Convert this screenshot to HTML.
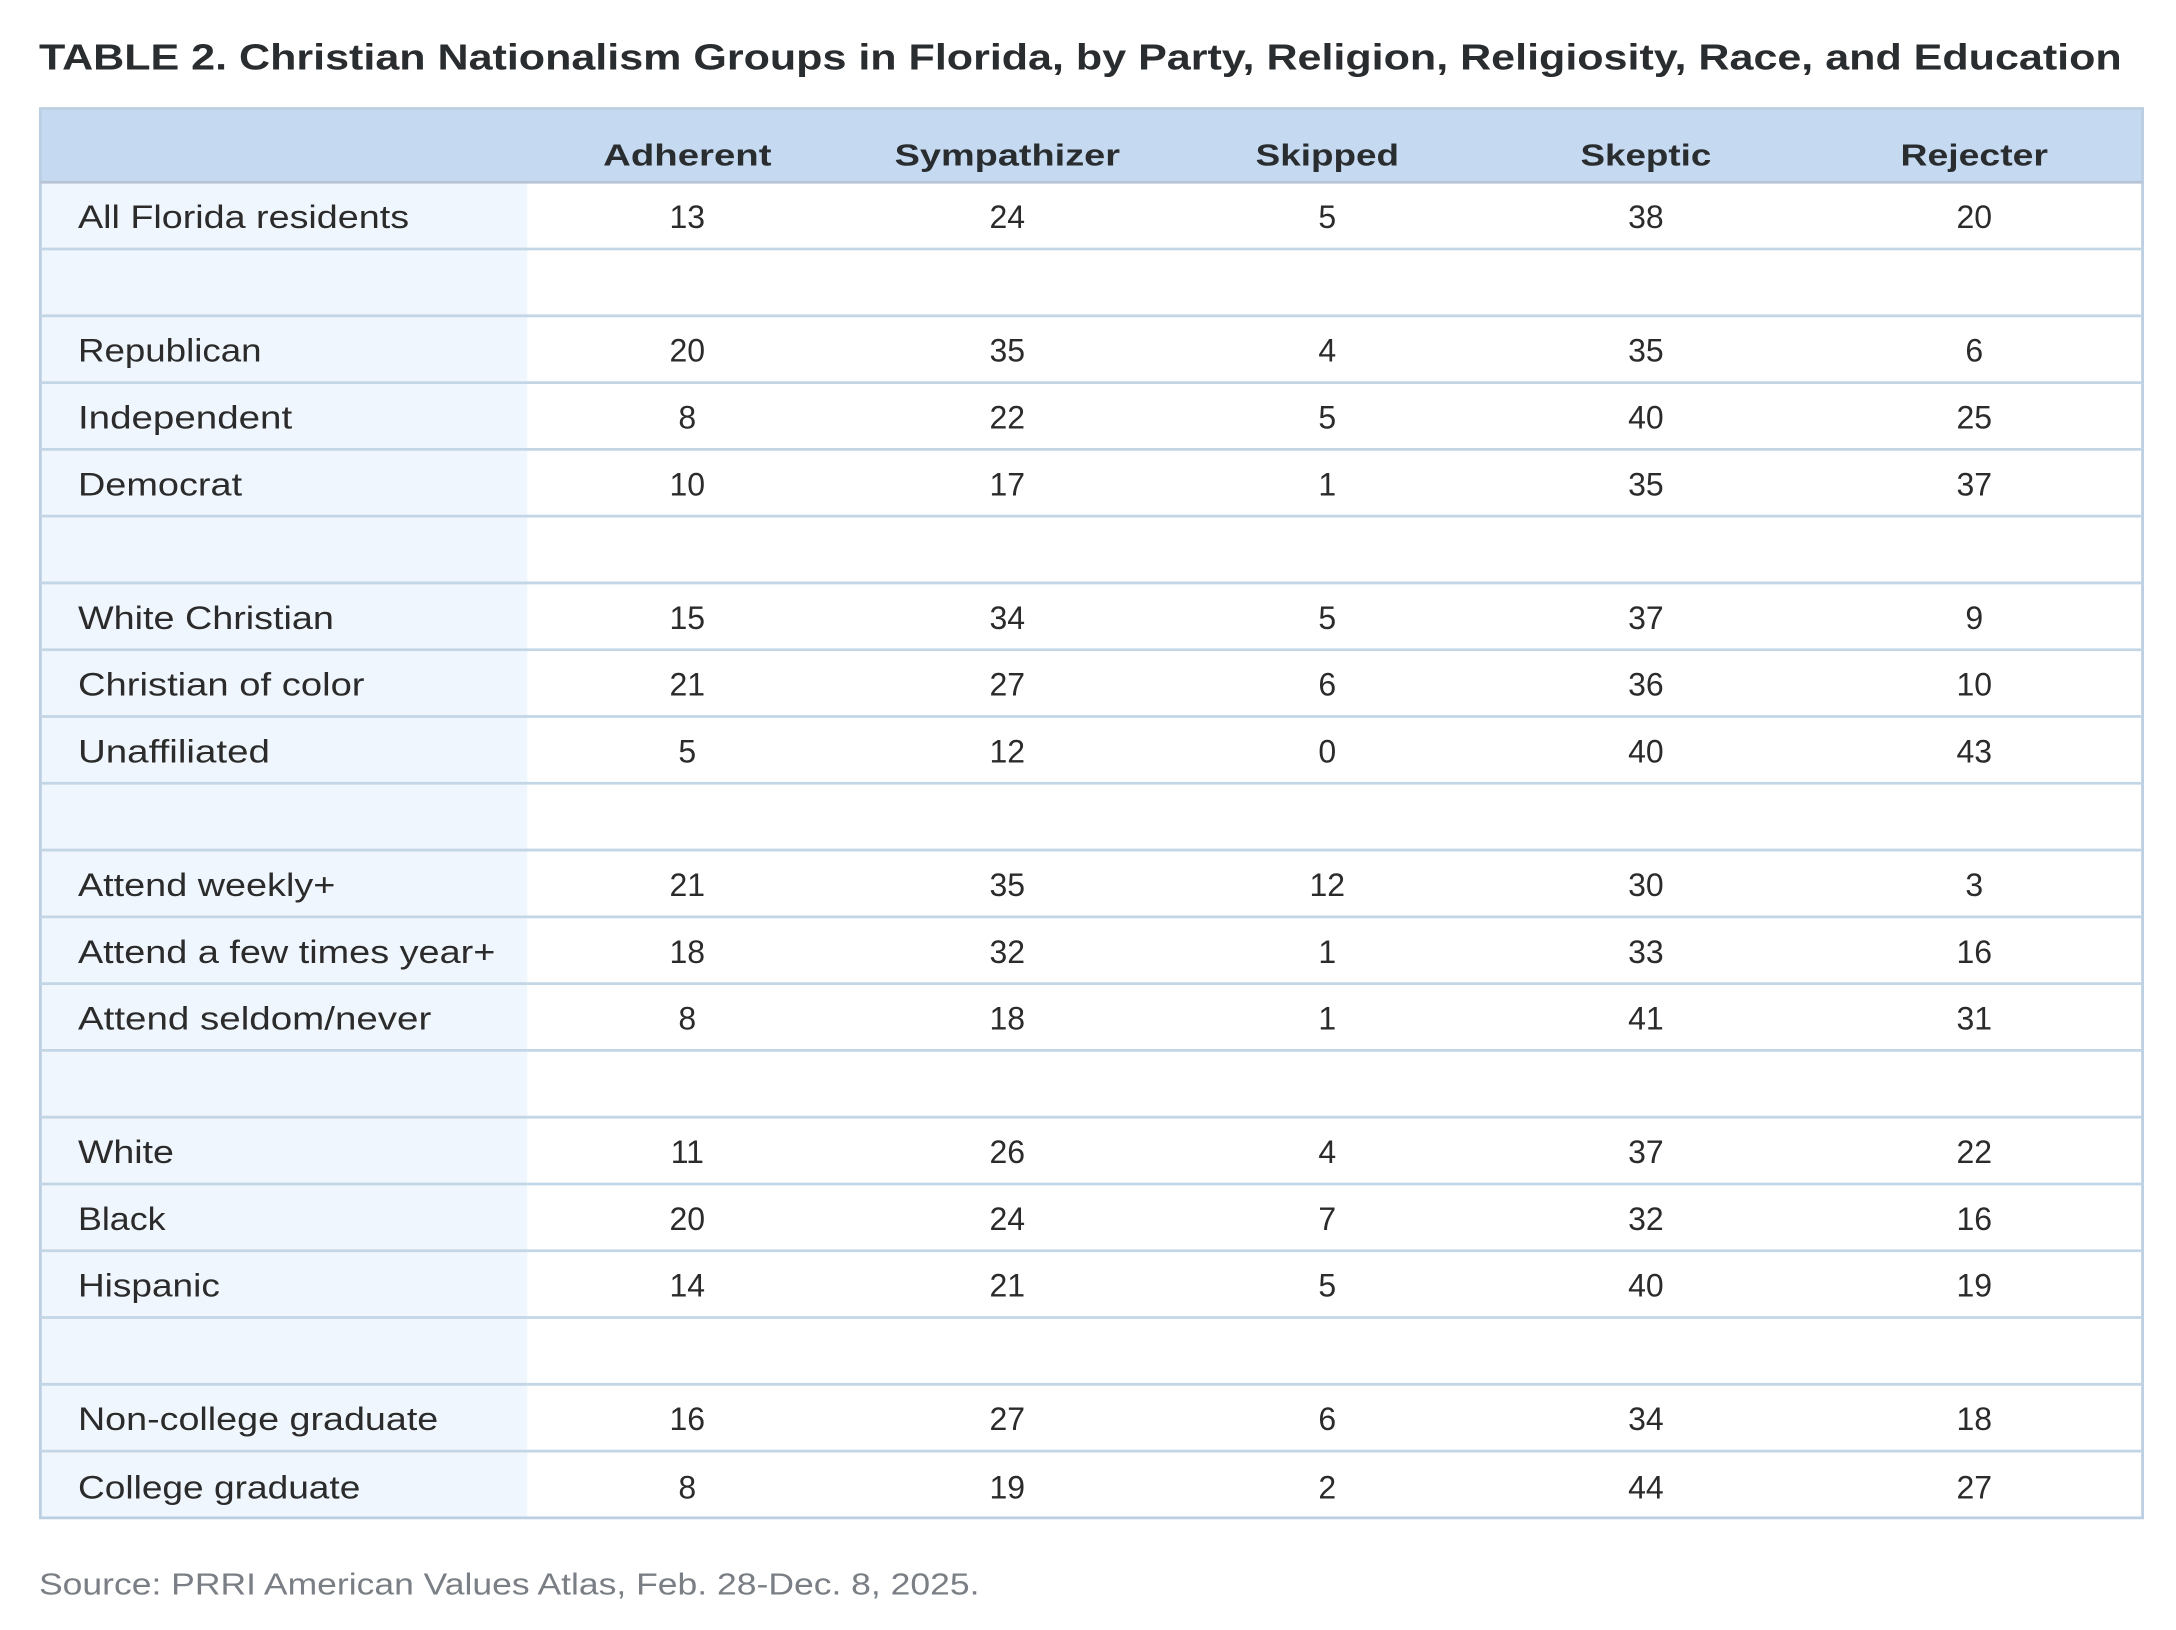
<!DOCTYPE html>
<html><head><meta charset="utf-8"><style>html,body{margin:0;padding:0;background:#fff}svg{display:block}</style></head>
<body>
<svg width="2176" height="1630" viewBox="0 0 1564 1171.6" xmlns="http://www.w3.org/2000/svg" font-family="Liberation Sans, sans-serif">
<rect width="1564" height="1172" fill="#fff"/>
<text x="28" y="50" font-size="26" font-weight="bold" fill="#2a2d30" textLength="1497" lengthAdjust="spacingAndGlyphs">TABLE 2. Christian Nationalism Groups in Florida, by Party, Religion, Religiosity, Race, and Education</text>
<rect x="29" y="78" width="1511" height="53" fill="#c5daf0"/>
<rect x="29" y="131" width="350" height="960" fill="#f0f6fd"/>
<g font-size="22" font-weight="bold" fill="#2a2d30" text-anchor="middle" lengthAdjust="spacingAndGlyphs">
<text x="494" y="119" textLength="121" lengthAdjust="spacingAndGlyphs">Adherent</text><text x="724" y="119" textLength="162" lengthAdjust="spacingAndGlyphs">Sympathizer</text><text x="954" y="119" textLength="103" lengthAdjust="spacingAndGlyphs">Skipped</text><text x="1183" y="119" textLength="94" lengthAdjust="spacingAndGlyphs">Skeptic</text><text x="1419" y="119" textLength="106" lengthAdjust="spacingAndGlyphs">Rejecter</text>
</g>
<g stroke="#c3d6e6" stroke-width="2" fill="none">
<rect x="29" y="78" width="1511" height="1013" stroke="#bccfe2"/>
<line x1="29" y1="131" x2="1540" y2="131" stroke="#b8c4d6"/>
<line x1="29" y1="179" x2="1540" y2="179"/><line x1="29" y1="227" x2="1540" y2="227"/>
<line x1="29" y1="275" x2="1540" y2="275"/><line x1="29" y1="323" x2="1540" y2="323"/>
<line x1="29" y1="371" x2="1540" y2="371"/><line x1="29" y1="419" x2="1540" y2="419"/>
<line x1="29" y1="467" x2="1540" y2="467"/><line x1="29" y1="515" x2="1540" y2="515"/>
<line x1="29" y1="563" x2="1540" y2="563"/><line x1="29" y1="611" x2="1540" y2="611"/>
<line x1="29" y1="659" x2="1540" y2="659"/><line x1="29" y1="707" x2="1540" y2="707"/>
<line x1="29" y1="755" x2="1540" y2="755"/><line x1="29" y1="803" x2="1540" y2="803"/>
<line x1="29" y1="851" x2="1540" y2="851"/><line x1="29" y1="899" x2="1540" y2="899"/>
<line x1="29" y1="947" x2="1540" y2="947"/><line x1="29" y1="995" x2="1540" y2="995"/>
<line x1="29" y1="1043" x2="1540" y2="1043"/>
</g>
<g font-size="23" fill="#2b2b2b">
<text x="56" y="164" textLength="238" lengthAdjust="spacingAndGlyphs">All Florida residents</text>
<text x="56" y="260" textLength="132" lengthAdjust="spacingAndGlyphs">Republican</text><text x="56" y="308" textLength="154" lengthAdjust="spacingAndGlyphs">Independent</text><text x="56" y="356" textLength="118" lengthAdjust="spacingAndGlyphs">Democrat</text>
<text x="56" y="452" textLength="184" lengthAdjust="spacingAndGlyphs">White Christian</text><text x="56" y="500" textLength="206" lengthAdjust="spacingAndGlyphs">Christian of color</text><text x="56" y="548" textLength="138" lengthAdjust="spacingAndGlyphs">Unaffiliated</text>
<text x="56" y="644" textLength="185" lengthAdjust="spacingAndGlyphs">Attend weekly+</text><text x="56" y="692" textLength="300" lengthAdjust="spacingAndGlyphs">Attend a few times year+</text><text x="56" y="740" textLength="254" lengthAdjust="spacingAndGlyphs">Attend seldom/never</text>
<text x="56" y="836" textLength="69" lengthAdjust="spacingAndGlyphs">White</text><text x="56" y="884" textLength="63" lengthAdjust="spacingAndGlyphs">Black</text><text x="56" y="932" textLength="102" lengthAdjust="spacingAndGlyphs">Hispanic</text>
<text x="56" y="1028" textLength="259" lengthAdjust="spacingAndGlyphs">Non-college graduate</text><text x="56" y="1077" textLength="203" lengthAdjust="spacingAndGlyphs">College graduate</text>
</g>
<g font-size="23" fill="#2b2b2b" text-anchor="middle">
<g transform="translate(0,164)"><text x="494">13</text><text x="724">24</text><text x="954">5</text><text x="1183">38</text><text x="1419">20</text></g>
<g transform="translate(0,260)"><text x="494">20</text><text x="724">35</text><text x="954">4</text><text x="1183">35</text><text x="1419">6</text></g>
<g transform="translate(0,308)"><text x="494">8</text><text x="724">22</text><text x="954">5</text><text x="1183">40</text><text x="1419">25</text></g>
<g transform="translate(0,356)"><text x="494">10</text><text x="724">17</text><text x="954">1</text><text x="1183">35</text><text x="1419">37</text></g>
<g transform="translate(0,452)"><text x="494">15</text><text x="724">34</text><text x="954">5</text><text x="1183">37</text><text x="1419">9</text></g>
<g transform="translate(0,500)"><text x="494">21</text><text x="724">27</text><text x="954">6</text><text x="1183">36</text><text x="1419">10</text></g>
<g transform="translate(0,548)"><text x="494">5</text><text x="724">12</text><text x="954">0</text><text x="1183">40</text><text x="1419">43</text></g>
<g transform="translate(0,644)"><text x="494">21</text><text x="724">35</text><text x="954">12</text><text x="1183">30</text><text x="1419">3</text></g>
<g transform="translate(0,692)"><text x="494">18</text><text x="724">32</text><text x="954">1</text><text x="1183">33</text><text x="1419">16</text></g>
<g transform="translate(0,740)"><text x="494">8</text><text x="724">18</text><text x="954">1</text><text x="1183">41</text><text x="1419">31</text></g>
<g transform="translate(0,836)"><text x="494">11</text><text x="724">26</text><text x="954">4</text><text x="1183">37</text><text x="1419">22</text></g>
<g transform="translate(0,884)"><text x="494">20</text><text x="724">24</text><text x="954">7</text><text x="1183">32</text><text x="1419">16</text></g>
<g transform="translate(0,932)"><text x="494">14</text><text x="724">21</text><text x="954">5</text><text x="1183">40</text><text x="1419">19</text></g>
<g transform="translate(0,1028)"><text x="494">16</text><text x="724">27</text><text x="954">6</text><text x="1183">34</text><text x="1419">18</text></g>
<g transform="translate(0,1077)"><text x="494">8</text><text x="724">19</text><text x="954">2</text><text x="1183">44</text><text x="1419">27</text></g>
</g>
<text x="28" y="1146" font-size="22" fill="#7a7f85" textLength="676" lengthAdjust="spacingAndGlyphs">Source: PRRI American Values Atlas, Feb. 28-Dec. 8, 2025.</text>
</svg>
</body></html>
